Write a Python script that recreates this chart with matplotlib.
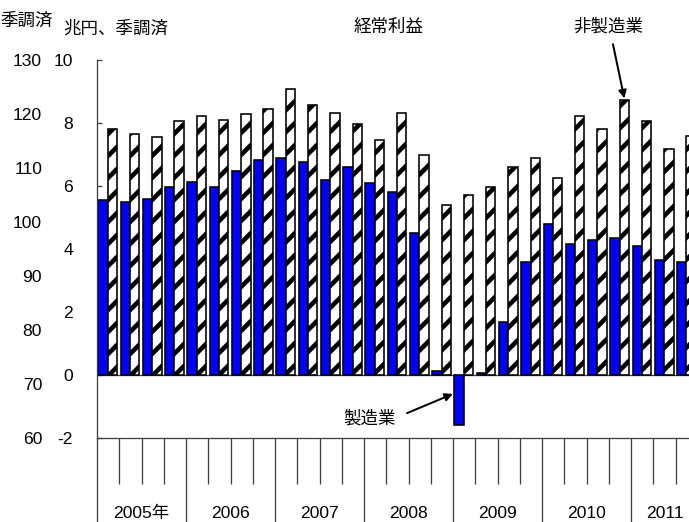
import numpy as np
import matplotlib
matplotlib.use('Agg')
import matplotlib.pyplot as plt

# quarterly ordinary profits, 2005Q1 - 2011Q3 (trillion yen, s.a.)
years = ['2005年', '2006', '2007', '2008', '2009', '2010', '2011']
quarters_per_year = [4, 4, 4, 4, 4, 4, 3]
mfg = [5.55, 5.48, 5.60, 5.96, 6.14, 5.96, 6.49, 6.83, 6.88, 6.77, 6.19, 6.59,
       6.09, 5.80, 4.52, 0.12, -1.60, 0.05, 1.69, 3.59, 4.80, 4.17, 4.27, 4.34,
       4.11, 3.65, 3.59]
nonmfg = [7.82, 7.65, 7.54, 8.05, 8.22, 8.11, 8.28, 8.46, 9.08, 8.57, 8.33, 7.98,
          7.47, 8.33, 7.00, 5.39, 5.73, 5.97, 6.60, 6.89, 6.26, 8.22, 7.82, 8.74,
          8.05, 7.18, 7.58]
inner_ticks = [-2, 0, 2, 4, 6, 8, 10]
outer_ticks = [60, 70, 80, 90, 100, 110, 120, 130]

# higher dpi so the '//' hatch spacing matches the source; sizes given in px
DPI = 132
def pt(px):
    return px * 72 / DPI

num_font = ['Liberation Sans Narrow', 'Liberation Sans', 'DejaVu Sans']
jp_font = ['Noto Sans CJK JP', 'DejaVu Sans']
plt.rcParams['hatch.linewidth'] = pt(4.6)
axis_grey = '#404040'
num_size = pt(17.5)
jp_size = pt(17.5)

fig = plt.figure(figsize=(689 / DPI, 522 / DPI), dpi=DPI)
ax = fig.add_axes([97 / 689, 84 / 522, 601 / 689, 378 / 522])

x = np.arange(len(mfg))
ax.axhline(0, color=axis_grey, lw=pt(1.3), zorder=0.5)
ax.bar(x + 0.06, mfg, width=0.42, align='edge', color='#0000FF',
       edgecolor='black', linewidth=pt(1.6), zorder=2)
ax.bar(x + 0.48, nonmfg, width=0.42, align='edge', color='white',
       edgecolor='black', hatch='//', linewidth=pt(1.6), zorder=2)

ax.set_xlim(0, len(mfg))
ax.set_ylim(-2, 10)

for side in ['top', 'right']:
    ax.spines[side].set_visible(False)
ax.spines['left'].set_color(axis_grey)
ax.spines['bottom'].set_color(axis_grey)
ax.spines['left'].set_linewidth(pt(1.3))
ax.spines['bottom'].set_linewidth(pt(1.3))

ax.set_yticks(inner_ticks)
ax.set_yticklabels([str(t) for t in inner_ticks], family=num_font,
                   fontsize=num_size)
ax.tick_params(axis='y', direction='in', length=pt(5), width=pt(1.3),
               color=axis_grey, pad=pt(24))

# year separators (long) and quarter ticks (short)
year_edges = np.cumsum([0] + quarters_per_year)
ax.set_xticks(year_edges)
ax.set_xticks([q for q in range(len(mfg)) if q not in year_edges], minor=True)
ax.tick_params(axis='x', which='major', direction='out', length=pt(90),
               color=axis_grey, width=pt(1.3), labelbottom=False)
ax.tick_params(axis='x', which='minor', direction='out', length=pt(46),
               color=axis_grey, width=pt(1.3))

for i, yr in enumerate(years):
    cx = (year_edges[i] + year_edges[i + 1]) / 2
    ax.text(cx, -0.20, yr, transform=ax.get_xaxis_transform(), ha='center',
            va='center', fontsize=num_size, family=num_font + jp_font)

# outer (index) scale on the left
sec = ax.secondary_yaxis('left', functions=(lambda v: 60 + (v + 2) * 70 / 12,
                                             lambda o: -2 + (o - 60) * 12 / 70))
sec.set_yticks(outer_ticks)
sec.set_yticklabels([str(t) for t in outer_ticks], family=num_font,
                    fontsize=num_size)
sec.tick_params(length=0, pad=pt(55))
sec.spines['left'].set_visible(False)

fig.text(0.5 / 689, 1 - 21 / 522, '季調済', ha='left', va='center',
         fontsize=jp_size, family=jp_font)
fig.text(63 / 689, 1 - 29 / 522, '兆円、季調済', ha='left', va='center',
         fontsize=jp_size, family=jp_font)

ax.text(13.12, 11.05, '経常利益', ha='center', va='center', fontsize=jp_size,
        family=jp_font)
ax.text(22.96, 11.05, '非製造業', ha='center', va='center', fontsize=jp_size,
        family=jp_font)
ax.annotate('', xy=(23.69, 8.78), xytext=(23.18, 10.5),
            arrowprops=dict(arrowstyle='-|>', color='black', lw=pt(2),
                            mutation_scale=pt(16), shrinkA=0, shrinkB=0),
            annotation_clip=False)
ax.text(12.26, -1.37, '製造業', ha='center', va='center', fontsize=jp_size,
        family=jp_font)
ax.annotate('', xy=(15.99, -0.6), xytext=(13.93, -1.21),
            arrowprops=dict(arrowstyle='-|>', color='black', lw=pt(2),
                            mutation_scale=pt(16), shrinkA=0, shrinkB=0),
            annotation_clip=False)

fig.savefig('out.png', dpi=DPI, facecolor='white')
